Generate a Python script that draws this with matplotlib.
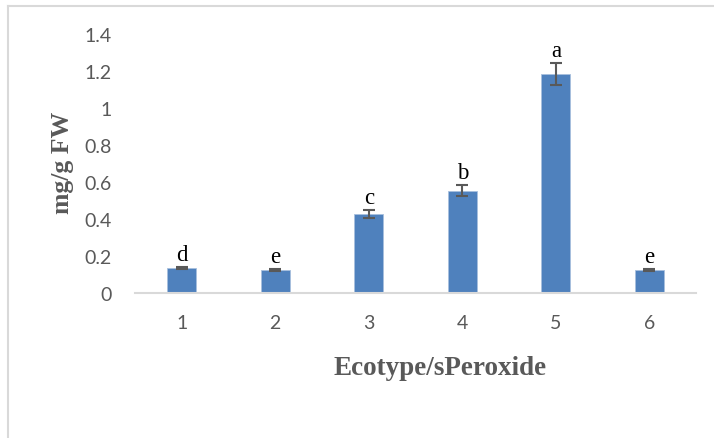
import matplotlib.pyplot as plt
from matplotlib.lines import Line2D

# mean content per ecotype, with standard errors and significance letters
ecotypes = ['1', '2', '3', '4', '5', '6']
means = [0.135, 0.123, 0.427, 0.552, 1.185, 0.125]
errors = [0.006, 0.005, 0.02, 0.03, 0.06, 0.005]
letters = ['d', 'e', 'c', 'b', 'a', 'e']

fig = plt.figure(figsize=(7.14, 4.39), dpi=100)
ax = fig.add_axes([0.189, 0.3303, 0.786, 0.59])

x = list(range(1, len(ecotypes) + 1))
ax.bar(x, means, width=0.31, color='#4f81bd', edgecolor='#a8c0de', linewidth=0.6, zorder=2)
ax.errorbar(x, means, yerr=errors, fmt='none', ecolor='#595959',
            elinewidth=1.5, capsize=4.3, capthick=1.5, zorder=3)

for xi, m, e, lab in zip(x, means, errors, letters):
    ax.annotate(lab, (xi, m + e), xytext=(0, 1.5), textcoords='offset points',
                ha='center', va='bottom', fontsize=16.5, family='Liberation Serif',
                color='black')

ax.set_xlim(0.5, 6.5)
ax.set_ylim(0, 1.4)
ax.set_xticks(x)
ax.set_xticklabels(ecotypes)
ax.set_yticks([0, 0.2, 0.4, 0.6, 0.8, 1.0, 1.2, 1.4])
ax.set_yticklabels(['0', '0.2', '0.4', '0.6', '0.8', '1', '1.2', '1.4'])

for s in ['top', 'right', 'left']:
    ax.spines[s].set_visible(False)
ax.spines['bottom'].set_color('#d9d9d9')
ax.spines['bottom'].set_linewidth(1.5)
ax.tick_params(axis='both', length=0, labelsize=14, labelcolor='#595959')
ax.tick_params(axis='y', pad=17)
ax.tick_params(axis='x', pad=15)
for t in ax.get_xticklabels() + ax.get_yticklabels():
    t.set_family('Lato')

fig.text(0.087, 0.6286, 'mg/g FW', rotation=90, ha='center', va='center',
         fontsize=18.5, fontweight='bold', family='Liberation Serif', color='#595959')
fig.text(0.617, 0.16, 'Ecotype/sPeroxide', ha='center', va='center',
         fontsize=19.5, fontweight='bold', family='Liberation Serif', color='#595959')

# chart frame (top and left edges)
fig.add_artist(Line2D([0.0112, 1.0], [0.984, 0.984], transform=fig.transFigure,
                      color='#d9d9d9', linewidth=1.5))
fig.add_artist(Line2D([0.0112, 0.0112], [0.0, 0.984], transform=fig.transFigure,
                      color='#d9d9d9', linewidth=1.5))

fig.savefig('out.png', dpi=100)
